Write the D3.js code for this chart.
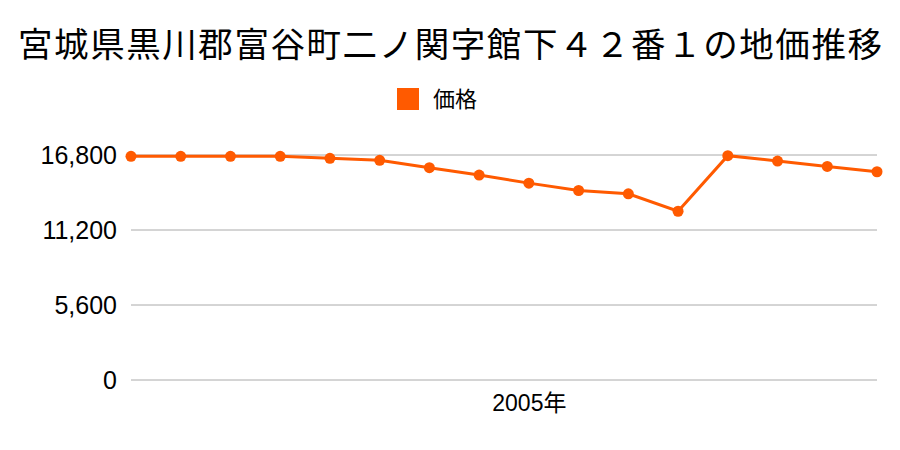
<!DOCTYPE html>
<html>
<head>
<meta charset="utf-8">
<script src="https://cdn.jsdelivr.net/npm/d3@7"></script>
<style>
  body { margin: 0; background: #fff; }
  text { font-family: "Noto Sans CJK JP", "Noto Sans", sans-serif; fill: #000; }
  .axis text { font-family: "Liberation Sans", "Noto Sans CJK JP", sans-serif; }
</style>
</head>
<body>
<div id="chart"></div>
<script>
// data
var years = [1997, 1998, 1999, 2000, 2001, 2002, 2003, 2004, 2005, 2006, 2007, 2008, 2009, 2010, 2011, 2012];
var prices = [16700, 16700, 16700, 16700, 16550, 16400, 15850, 15300, 14700, 14150, 13900, 12600, 16750, 16350, 15950, 15550];
var yTicks = [0, 5600, 11200, 16800];
var xLabelYears = [2005];

var svgWidth = 900;
var svgHeight = 450;

var margin = { top: 155, right: 23, bottom: 70, left: 131 };
var width = svgWidth - margin.left - margin.right;
var height = svgHeight - margin.top - margin.bottom;

var svg = d3.select("#chart")
  .append("svg")
  .attr("width", svgWidth)
  .attr("height", svgHeight);

// title
svg.append("text")
  .attr("x", svgWidth / 2)
  .attr("y", 57)
  .attr("text-anchor", "middle")
  .attr("font-size", 34.5)
  .attr("textLength", 864)
  .attr("lengthAdjust", "spacing")
  .text("宮城県黒川郡富谷町二ノ関字館下４２番１の地価推移");

// legend
svg.append("rect")
  .attr("x", 397)
  .attr("y", 88)
  .attr("width", 22)
  .attr("height", 22)
  .attr("fill", "#ff5a00");

svg.append("text")
  .attr("x", 433)
  .attr("y", 107)
  .attr("font-size", 22)
  .text("価格");

var chartGroup = svg.append("g")
  .attr("transform", `translate(${margin.left}, ${margin.top})`);

var xScale = d3.scalePoint()
  .domain(years)
  .range([0, width]);

var yScale = d3.scaleLinear()
  .domain([0, 16800])
  .range([height, 0]);

// gridlines
chartGroup.selectAll(".grid")
  .data(yTicks)
  .enter()
  .append("line")
  .attr("x1", 0)
  .attr("x2", width)
  .attr("y1", d => yScale(d))
  .attr("y2", d => yScale(d))
  .attr("stroke", "#aaa")
  .attr("stroke-width", 1);

// y axis labels
var leftAxis = d3.axisLeft(yScale)
  .tickValues(yTicks)
  .tickSize(0)
  .tickPadding(14)
  .tickFormat(d3.format(","));

chartGroup.append("g")
  .attr("class", "axis")
  .call(leftAxis)
  .call(g => g.select(".domain").remove())
  .selectAll("text")
  .attr("font-size", 25)
  .attr("fill", "#000");

// x axis labels
var bottomAxis = d3.axisBottom(xScale)
  .tickValues(xLabelYears)
  .tickSize(0)
  .tickPadding(15)
  .tickFormat(d => d + "年");

chartGroup.append("g")
  .attr("class", "axis")
  .attr("transform", `translate(0, ${height})`)
  .call(bottomAxis)
  .call(g => g.select(".domain").remove())
  .selectAll("text")
  .attr("font-size", 23)
  .attr("fill", "#000");

// line
var line = d3.line()
  .x((d, i) => xScale(years[i]))
  .y(d => yScale(d));

chartGroup.append("path")
  .datum(prices)
  .attr("d", line)
  .attr("fill", "none")
  .attr("stroke", "#ff5a00")
  .attr("stroke-width", 3);

chartGroup.selectAll("circle")
  .data(prices)
  .enter()
  .append("circle")
  .attr("cx", (d, i) => xScale(years[i]))
  .attr("cy", d => yScale(d))
  .attr("r", 5.5)
  .attr("fill", "#ff5a00");
</script>
</body>
</html>
